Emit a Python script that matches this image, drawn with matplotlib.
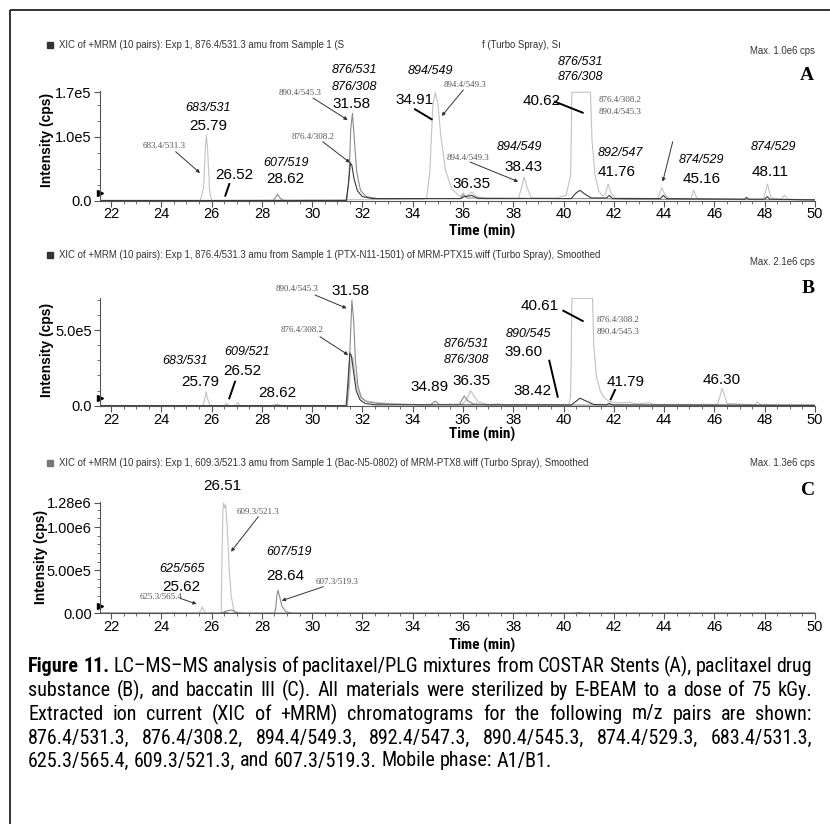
import matplotlib
matplotlib.use("Agg")
import matplotlib.pyplot as plt
from matplotlib.patches import Rectangle
from matplotlib.ticker import MultipleLocator
from matplotlib import font_manager

W, H = 830, 824
installed = {f.name for f in font_manager.fontManager.ttflist}
NARROW = 'Liberation Sans'
for name in ['Liberation Sans Narrow', 'Roboto Condensed', 'DejaVu Sans Condensed']:
    if name in installed:
        NARROW = name
        break
SANS = 'Liberation Sans'
SERIF = 'Liberation Serif'

# ---- chromatogram traces: (time min, intensity cps)
A_LIGHT = [(21.56, 0), (25.55, 0), (25.68, 20e3), (25.75, 82e3), (25.79, 103e3), (25.84, 80e3),
           (25.92, 15e3), (26.0, 0), (34.4, 2e3), (34.55, 3e3), (34.68, 45e3), (34.8, 150e3),
           (34.9, 170e3), (35.0, 152e3), (35.12, 100e3), (35.3, 48e3), (35.55, 18e3), (35.9, 6e3),
           (36.0, 12e3), (36.1, 6e3), (36.35, 13e3), (36.5, 7e3), (36.9, 3e3), (38.2, 3e3),
           (38.33, 20e3), (38.43, 37e3), (38.55, 20e3), (38.72, 4e3), (39.7, 4e3), (40.1, 8e3),
           (40.28, 40e3), (40.33, 170e3), (41.07, 170e3), (41.13, 95e3), (41.25, 40e3),
           (41.4, 15e3), (41.55, 7e3), (41.66, 10e3), (41.77, 26e3), (41.88, 12e3), (42.05, 4e3),
           (43.75, 3e3), (43.9, 20e3), (44.02, 10e3), (44.2, 3e3), (45.05, 2e3), (45.18, 16e3),
           (45.3, 3e3), (47.95, 2e3), (48.11, 26e3), (48.25, 4e3), (48.65, 2e3), (48.78, 8e3),
           (48.92, 2e3), (50.0, 1e3)]
A_MID = [(21.56, 0), (28.45, 0), (28.55, 5e3), (28.62, 10e3), (28.72, 4e3), (28.85, 0), (31.38, 0),
         (31.47, 40e3), (31.53, 110e3), (31.6, 137e3), (31.67, 100e3), (31.77, 45e3),
         (31.92, 16e3), (32.15, 6e3), (32.6, 3e3), (35.9, 3e3), (36.02, 9e3), (36.15, 4e3),
         (40.2, 3e3), (41.6, 3e3), (42.5, 2e3), (50.0, 1e3)]
A_DARK = [(21.56, 0), (31.35, 0), (31.44, 25e3), (31.52, 59e3), (31.58, 55e3), (31.66, 35e3),
          (31.8, 15e3), (32.0, 6e3), (32.4, 3e3), (35.9, 3e3), (36.05, 6e3), (36.35, 8e3),
          (36.6, 3e3), (40.3, 3e3), (40.5, 12e3), (40.65, 16e3), (40.85, 10e3), (41.1, 4e3),
          (41.7, 4e3), (41.82, 8e3), (41.95, 3e3), (43.85, 3e3), (43.97, 8e3), (44.1, 3e3),
          (47.2, 2e3), (47.28, 5e3), (47.36, 2e3), (48.0, 2e3), (48.1, 6e3), (48.2, 2e3),
          (50.0, 1e3)]

B_LIGHT = [(21.56, 0), (25.65, 0), (25.72, 40e3), (25.78, 92e3), (25.85, 40e3), (25.95, 0),
           (26.5, 0), (26.6, 15e3), (26.7, 0), (26.95, 0), (27.05, 20e3), (27.15, 0), (31.4, 0),
           (31.48, 120e3), (31.55, 300e3), (31.62, 320e3), (31.7, 200e3), (31.82, 100e3),
           (31.95, 50e3), (32.15, 30e3), (32.5, 22e3), (33.0, 16e3), (33.6, 10e3), (34.5, 6e3),
           (35.95, 10e3), (36.1, 30e3), (36.2, 60e3), (36.3, 99e3), (36.42, 70e3), (36.6, 25e3),
           (37.0, 8e3), (37.4, 12e3), (37.7, 5e3), (40.2, 5e3), (40.28, 60e3), (40.33, 710e3),
           (41.15, 710e3), (41.2, 400e3), (41.3, 200e3), (41.45, 100e3), (41.6, 55e3),
           (41.8, 28e3), (42.1, 18e3), (42.6, 22e3), (42.9, 12e3), (43.4, 20e3), (43.6, 8e3),
           (46.12, 8e3), (46.22, 60e3), (46.3, 115e3), (46.38, 80e3), (46.5, 15e3), (47.6, 5e3),
           (47.72, 26e3), (47.85, 5e3), (50.0, 3e3)]
B_MID = [(21.56, 0), (28.4, 0), (28.6, 6e3), (28.8, 0), (31.38, 0), (31.45, 150e3), (31.52, 450e3),
         (31.58, 698e3), (31.65, 560e3), (31.72, 300e3), (31.82, 130e3), (31.95, 55e3),
         (32.15, 28e3), (32.6, 15e3), (33.2, 10e3), (34.7, 6e3), (34.9, 30e3), (35.05, 8e3),
         (35.85, 8e3), (36.05, 64e3), (36.2, 30e3), (36.4, 12e3), (37.0, 5e3), (50.0, 3e3)]
B_DARK = [(21.56, 0), (31.35, 0), (31.42, 150e3), (31.5, 348e3), (31.56, 330e3), (31.65, 220e3),
          (31.75, 100e3), (31.9, 40e3), (32.1, 15e3), (32.5, 6e3), (40.3, 5e3), (40.5, 30e3),
          (40.65, 50e3), (40.9, 30e3), (41.2, 8e3), (41.7, 6e3), (41.82, 15e3), (41.95, 5e3),
          (50.0, 2e3)]

C_LIGHT = [(21.56, 0), (24.4, 0), (24.5, 10e3), (24.6, 0), (25.5, 0), (25.58, 40e3), (25.62, 76e3),
           (25.68, 40e3), (25.78, 0), (25.95, 0), (26.02, 8e3), (26.1, 0), (26.38, 0),
           (26.41, 600e3), (26.45, 1200e3), (26.48, 1280e3), (26.52, 1220e3), (26.56, 1255e3),
           (26.62, 1000e3), (26.7, 500e3), (26.78, 200e3), (26.88, 40e3), (27.0, 10e3),
           (27.3, 0), (50.0, 0)]
C_MID = [(21.56, 0), (26.4, 0), (26.55, 25e3), (26.8, 40e3), (26.95, 10e3), (27.2, 0), (28.5, 0),
         (28.55, 60e3), (28.6, 220e3), (28.64, 267e3), (28.7, 200e3), (28.8, 80e3),
         (28.95, 20e3), (29.2, 0), (40.4, 0), (40.6, 8e3), (40.8, 0), (50.0, 0)]
C_DARK = [(21.56, 0), (26.4, 0), (26.55, 6e3), (26.7, 0), (50.0, 0)]

LIGHT, MID, DARK = '#c2c2c2', '#8a8a8a', '#3a3a3a'

CAPTION = ['Figure 11. LC–MS–MS analysis of paclitaxel/PLG mixtures from COSTAR Stents (A), paclitaxel drug',
           'substance (B), and baccatin III (C). All materials were sterilized by E-BEAM to a dose of 75 kGy.',
           'Extracted ion current (XIC of +MRM) chromatograms for the following m/z pairs are shown:',
           '876.4/531.3, 876.4/308.2, 894.4/549.3, 892.4/547.3, 890.4/545.3, 874.4/529.3, 683.4/531.3,',
           '625.3/565.4, 609.3/521.3, and 607.3/519.3. Mobile phase: A1/B1.']

fig = plt.figure(figsize=(W / 100, H / 100), dpi=100)


def panel(top, bottom, ymax, ticks, labels, yminor, traces):
    ax = fig.add_axes([100 / W, 1 - bottom / H, 715 / W, (bottom - top) / H])
    for data, col in traces:
        t, y = zip(*data)
        ax.plot(t, y, color=col, lw=0.8)
    ax.set_xlim(21.56, 50)
    ax.set_ylim(0, ymax)
    ax.set_xticks(range(22, 51, 2))
    ax.xaxis.set_minor_locator(MultipleLocator(0.5))
    ax.set_yticks(ticks)
    ax.set_yticklabels(labels)
    ax.yaxis.set_minor_locator(MultipleLocator(yminor))
    for s in ['top', 'right']:
        ax.spines[s].set_visible(False)
    for s in ['left', 'bottom']:
        ax.spines[s].set_color('#555555')
        ax.spines[s].set_linewidth(0.8)
    ax.tick_params(which='both', direction='out', colors='#555555', labelcolor='black',
                   labelsize=10.5)
    ax.tick_params(which='major', length=4, width=0.8)
    ax.tick_params(which='minor', length=2, width=0.6)
    ax.tick_params(axis='x', pad=1)
    ax.tick_params(axis='y', pad=2)
    for lab in ax.get_xticklabels() + ax.get_yticklabels():
        lab.set_family(SANS)
    ax.plot([0], [0.07], marker='>', color='black', ms=5, transform=ax.transAxes, clip_on=False)
    ax.patch.set_alpha(0)
    return ax


axA = panel(91, 200.5, 1.72e5, [0, 1.0e5, 1.7e5], ['0.0', '1.0e5', '1.7e5'], 2.5e4,
            [(A_LIGHT, LIGHT), (A_MID, MID), (A_DARK, DARK)])
axB = panel(298, 405.7, 7.12e5, [0, 5.0e5], ['0.0', '5.0e5'], 1e5,
            [(B_LIGHT, LIGHT), (B_MID, MID), (B_DARK, DARK)])
axC = panel(502, 613.3, 1.29e6, [0, 5.0e5, 1.0e6, 1.28e6], ['0.00', '5.00e5', '1.00e6', '1.28e6'],
            1e5, [(C_LIGHT, LIGHT), (C_MID, MID), (C_DARK, DARK)])

# overlay in pixel coordinates for all annotation text
ov = fig.add_axes([0, 0, 1, 1], zorder=10)
ov.set_xlim(0, W)
ov.set_ylim(H, 0)
ov.axis('off')
ov.patch.set_alpha(0)

ov.add_patch(Rectangle((10, 10), 900, 900, fill=False, lw=1.3, ec='#222222'))


def rt(s, x, y):
    ov.text(x, y, s, ha='center', va='center', family=SANS, fontsize=11)


def mz(s, x, y):
    ov.text(x, y, s, ha='center', va='center', family=SANS, fontsize=9, style='italic')


def small(s, x, y):
    ov.text(x, y, s, ha='center', va='center', family=SERIF, fontsize=6.5, color='#555555')


def arrow(x1, y1, x2, y2):
    ov.annotate('', xy=(x2, y2), xytext=(x1, y1),
                arrowprops=dict(arrowstyle='-|>', color='#333333', lw=0.7, mutation_scale=5,
                                shrinkA=0, shrinkB=0))


def tick(x1, y1, x2, y2):
    ov.plot([x1, x2], [y1, y2], color='black', lw=1.4)


def header(y, text, maxtxt, my, sq='#333333'):
    ov.add_patch(Rectangle((46.5, y - 3), 6, 6, color=sq))
    ov.text(59, y, text, ha='left', va='center', family=SANS, fontsize=6.9, color='#333333')
    ov.text(815, my, maxtxt, ha='right', va='center', family=SANS, fontsize=6.9, color='#333333')


def letter(s, x, y):
    ov.text(x, y, s, ha='center', va='center', family=SERIF, fontsize=14, weight='bold')


def axis_labels(ty, lx, ly):
    ov.text(482, ty, 'Time (min)', ha='center', va='center', family=NARROW, fontsize=11,
            weight='bold')
    ov.text(lx, ly, 'Intensity (cps)', ha='center', va='center', family=SANS, fontsize=10,
            weight='bold', rotation=90)


# ---- panel A
header(44.5, 'XIC of +MRM (10 pairs): Exp 1, 876.4/531.3 amu from Sample 1 (S', 'Max. 1.0e6 cps', 50.7)
ov.text(482, 44.5, 'f (Turbo Spray), Sı', ha='left', va='center', family=SANS, fontsize=6.9,
        color='#333333')
letter('A', 807.3, 75)
axis_labels(231, 46.7, 140)
for s, x, y in [('25.79', 208, 126), ('26.52', 234, 175), ('28.62', 285.7, 179),
                ('31.58', 352, 104), ('34.91', 415, 100), ('36.35', 471.7, 184),
                ('38.43', 524, 166.7), ('40.62', 541.7, 100.7), ('41.76', 616.7, 171.7),
                ('45.16', 701.7, 179.3), ('48.11', 770, 171.7)]:
    rt(s, x, y)
for s, x, y in [('683/531', 207.7, 107.7), ('607/519', 285.7, 163.3), ('876/531', 354, 70),
                ('876/308', 354, 86.7), ('894/549', 430, 70.7), ('876/531', 580, 61.7),
                ('876/308', 580, 76.7), ('894/549', 519.3, 147.3), ('892/547', 620, 152.7),
                ('874/529', 701.7, 160), ('874/529', 773.3, 147.3)]:
    mz(s, x, y)
for s, x, y in [('683.4/531.3', 164, 145.7), ('890.4/545.3', 300, 93.3),
                ('876.4/308.2', 312.7, 136.7), ('894.4/549.3', 465, 85),
                ('894.4/549.3', 468.3, 157.7), ('876.4/308.2', 620, 100),
                ('890.4/545.3', 620, 111.7)]:
    small(s, x, y)
arrow(175.7, 151.7, 200, 173)
arrow(313, 98, 347.7, 120)
arrow(322.7, 141.7, 350, 162.7)
arrow(463.3, 90, 441.7, 116)
arrow(470, 162, 518.3, 181.7)
arrow(672.7, 141.7, 662.7, 181.7)
tick(229.3, 184, 225.3, 195.7)
tick(415, 109.3, 431.7, 119.3)
tick(555, 101.7, 582.7, 112.7)

# ---- panel B
header(255, 'XIC of +MRM (10 pairs): Exp 1, 876.4/531.3 amu from Sample 1 (PTX-N11-1501) of '
            'MRM-PTX15.wiff (Turbo Spray), Smoothed', 'Max. 2.1e6 cps', 261.7)
letter('B', 808.3, 288.3)
axis_labels(434, 46.7, 350)
for s, x, y in [('31.58', 351, 290.7), ('25.79', 200, 381.7), ('26.52', 242.7, 371),
                ('28.62', 277.3, 392.7), ('34.89', 430, 386.7), ('36.35', 471.7, 380.7),
                ('39.60', 524, 351.7), ('38.42', 532.7, 390.7), ('40.61', 540, 306),
                ('41.79', 626, 381.7), ('46.30', 721.7, 380)]:
    rt(s, x, y)
for s, x, y in [('683/531', 185, 360.7), ('609/521', 247.3, 352.3), ('876/531', 466.7, 344),
                ('876/308', 466.7, 360), ('890/545', 528.3, 334)]:
    mz(s, x, y)
for s, x, y in [('890.4/545.3', 296.7, 289.3), ('876.4/308.2', 301.7, 330),
                ('876.4/308.2', 618.3, 320), ('890.4/545.3', 618.3, 331.7)]:
    small(s, x, y)
arrow(315, 295, 346.7, 308.3)
arrow(320, 336.7, 348.3, 355)
tick(235, 381.7, 229.3, 398.3)
tick(549.3, 360.7, 557.7, 396.7)
tick(563.3, 310.7, 582.7, 321)
tick(615, 390, 610.7, 399.3)

# ---- panel C
header(463.3, 'XIC of +MRM (10 pairs): Exp 1, 609.3/521.3 amu from Sample 1 (Bac-N5-0802) of '
              'MRM-PTX8.wiff (Turbo Spray), Smoothed', 'Max. 1.3e6 cps', 462.7, sq='#777777')
letter('C', 808.3, 490)
axis_labels(645, 41, 557)
for s, x, y in [('26.51', 222.3, 486), ('28.64', 285.7, 576), ('25.62', 181.7, 586.7)]:
    rt(s, x, y)
for s, x, y in [('607/519', 289, 551.7), ('625/565', 181.7, 569.3)]:
    mz(s, x, y)
for s, x, y in [('609.3/521.3', 258.3, 511.7), ('607.3/519.3', 336.7, 582.3),
                ('625.3/565.4', 161, 596.7)]:
    small(s, x, y)
arrow(258.3, 516.7, 231, 551.7)
arrow(323.3, 586.7, 281.7, 600.7)
arrow(180, 598.3, 196.7, 604)

# ---- caption, justified between x=28 and x=812
fig.canvas.draw()
renderer = fig.canvas.get_renderer()


def width(s, size, bold=False):
    t = ov.text(0, 0, s, family=NARROW, fontsize=size, weight='bold' if bold else 'normal')
    w = t.get_window_extent(renderer).width
    t.remove()
    return w


left, right = 28, 812
cap_size = min([15.0] + [13.0 * (right - left) / width(line, 13.0) for line in CAPTION[:4]])
cap_y = [666, 690, 714, 738, 761]
space = width('a b', cap_size) - width('ab', cap_size)
for i, (line, y) in enumerate(zip(CAPTION, cap_y)):
    words = line.split(' ')
    bolds = [i == 0 and k < 2 for k in range(len(words))]
    ws = [width(w, cap_size, b) for w, b in zip(words, bolds)]
    if i < len(CAPTION) - 1:
        gap = (right - left - sum(ws)) / (len(words) - 1)
    else:
        gap = space
    x = left
    for w, b, wd in zip(words, bolds, ws):
        ov.text(x, y, w, ha='left', va='center', family=NARROW, fontsize=cap_size,
                weight='bold' if b else 'normal')
        x += wd + gap

fig.savefig('out.png', dpi=100)
